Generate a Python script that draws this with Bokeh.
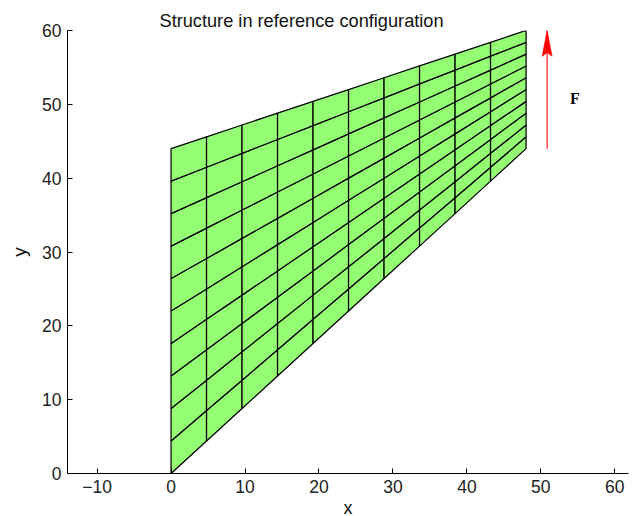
from bokeh.plotting import figure
from bokeh.embed import file_html
from bokeh.resources import INLINE
from bokeh.models import Range1d, FixedTicker, Title
from bokeh.core.properties import value

x_nodes = [0, 4.8, 9.6, 14.4, 19.2, 24, 28.8, 33.6, 38.4, 43.2, 48]
y_col_0 = [0, 4.4, 8.8, 13.2, 17.6, 22, 26.4, 30.8, 35.2, 39.6, 44]
y_col_1 = [4.4, 8.52, 12.64, 16.76, 20.88, 25, 29.12, 33.24, 37.36, 41.48, 45.6]
y_col_2 = [8.8, 12.64, 16.48, 20.32, 24.16, 28, 31.84, 35.68, 39.52, 43.36, 47.2]
y_col_3 = [13.2, 16.76, 20.32, 23.88, 27.44, 31, 34.56, 38.12, 41.68, 45.24, 48.8]
y_col_4 = [17.6, 20.88, 24.16, 27.44, 30.72, 34, 37.28, 40.56, 43.84, 47.12, 50.4]
y_col_5 = [22, 25, 28, 31, 34, 37, 40, 43, 46, 49, 52]
y_col_6 = [26.4, 29.12, 31.84, 34.56, 37.28, 40, 42.72, 45.44, 48.16, 50.88, 53.6]
y_col_7 = [30.8, 33.24, 35.68, 38.12, 40.56, 43, 45.44, 47.88, 50.32, 52.76, 55.2]
y_col_8 = [35.2, 37.36, 39.52, 41.68, 43.84, 46, 48.16, 50.32, 52.48, 54.64, 56.8]
y_col_9 = [39.6, 41.48, 43.36, 45.24, 47.12, 49, 50.88, 52.76, 54.64, 56.52, 58.4]
y_col_10 = [44, 45.6, 47.2, 48.8, 50.4, 52, 53.6, 55.2, 56.8, 58.4, 60]
y_cols = [y_col_0, y_col_1, y_col_2, y_col_3, y_col_4, y_col_5,
          y_col_6, y_col_7, y_col_8, y_col_9, y_col_10]

x_ticks = [-10, 0, 10, 20, 30, 40, 50, 60]
y_ticks = [0, 10, 20, 30, 40, 50, 60]
force_x = [50.85, 50.85]
force_y = [44, 60]
head_x = [50.85, 51.53, 50.85, 50.17]
head_y = [60, 56.5, 57, 56.5]
label_x = [53.95]
label_y = [49.6]

p = figure(width=631, height=516, output_backend="svg", toolbar_location=None,
           x_range=Range1d(-14, 61.85), y_range=Range1d(0, 60),
           frame_width=561, frame_height=443,
           min_border_left=67, min_border_right=3, min_border_top=30, min_border_bottom=43,
           background_fill_color="white", border_fill_color="white", outline_line_color=None)
p.grid.visible = False

for ax, ticks, lab in ((p.xaxis[0], x_ticks, "x"), (p.yaxis[0], y_ticks, "y")):
    ax.ticker = FixedTicker(ticks=ticks)
    ax.axis_label = lab
    ax.axis_label_text_font = "Liberation Sans"
    ax.axis_label_text_font_size = "19px"
    ax.axis_label_text_font_style = "normal"
    ax.axis_label_text_color = "#111111"
    ax.major_label_text_font = "Liberation Sans"
    ax.major_label_text_font_size = "17.5px"
    ax.major_label_text_color = "#222222"
    ax.major_tick_in = 5
    ax.major_tick_out = 0
    ax.minor_tick_line_color = None
    ax.axis_line_color = "black"
    ax.major_tick_line_color = "black"
    ax.axis_line_width = 1
p.xaxis[0].major_label_standoff = 6
p.yaxis[0].major_label_standoff = 6
p.xaxis[0].axis_label_standoff = 2
p.xaxis[0].axis_label_text_font_size = "18px"
p.yaxis[0].axis_label_standoff = 9
p.xaxis[0].major_label_overrides = {-10: "\u221210"}

xs, ys = [], []
for i in range(len(x_nodes) - 1):
    for j in range(len(y_col_0) - 1):
        xs.append([x_nodes[i], x_nodes[i + 1], x_nodes[i + 1], x_nodes[i]])
        ys.append([y_cols[i][j], y_cols[i + 1][j], y_cols[i + 1][j + 1], y_cols[i][j + 1]])
p.patches(xs, ys, fill_color="#94ff73", line_color="black", line_width=1.25)

p.line(force_x, force_y, line_color="#ff2020", line_width=1.2)
p.patch(head_x, head_y, fill_color="red", line_color="red", line_width=0.5)
p.text(label_x, label_y, text=["F"], text_font=value("Liberation Serif"),
       text_font_style="bold", text_font_size="16px", text_color="black",
       text_align="left", text_baseline="bottom")

title = Title(text="Structure in reference configuration", align="left",
              text_font="Liberation Sans", text_font_size="18.2px", text_font_style="normal",
              text_color="#111111", offset=92, standoff=0)
p.add_layout(title, "above")

open("out.html", "w").write(file_html(p, INLINE))
